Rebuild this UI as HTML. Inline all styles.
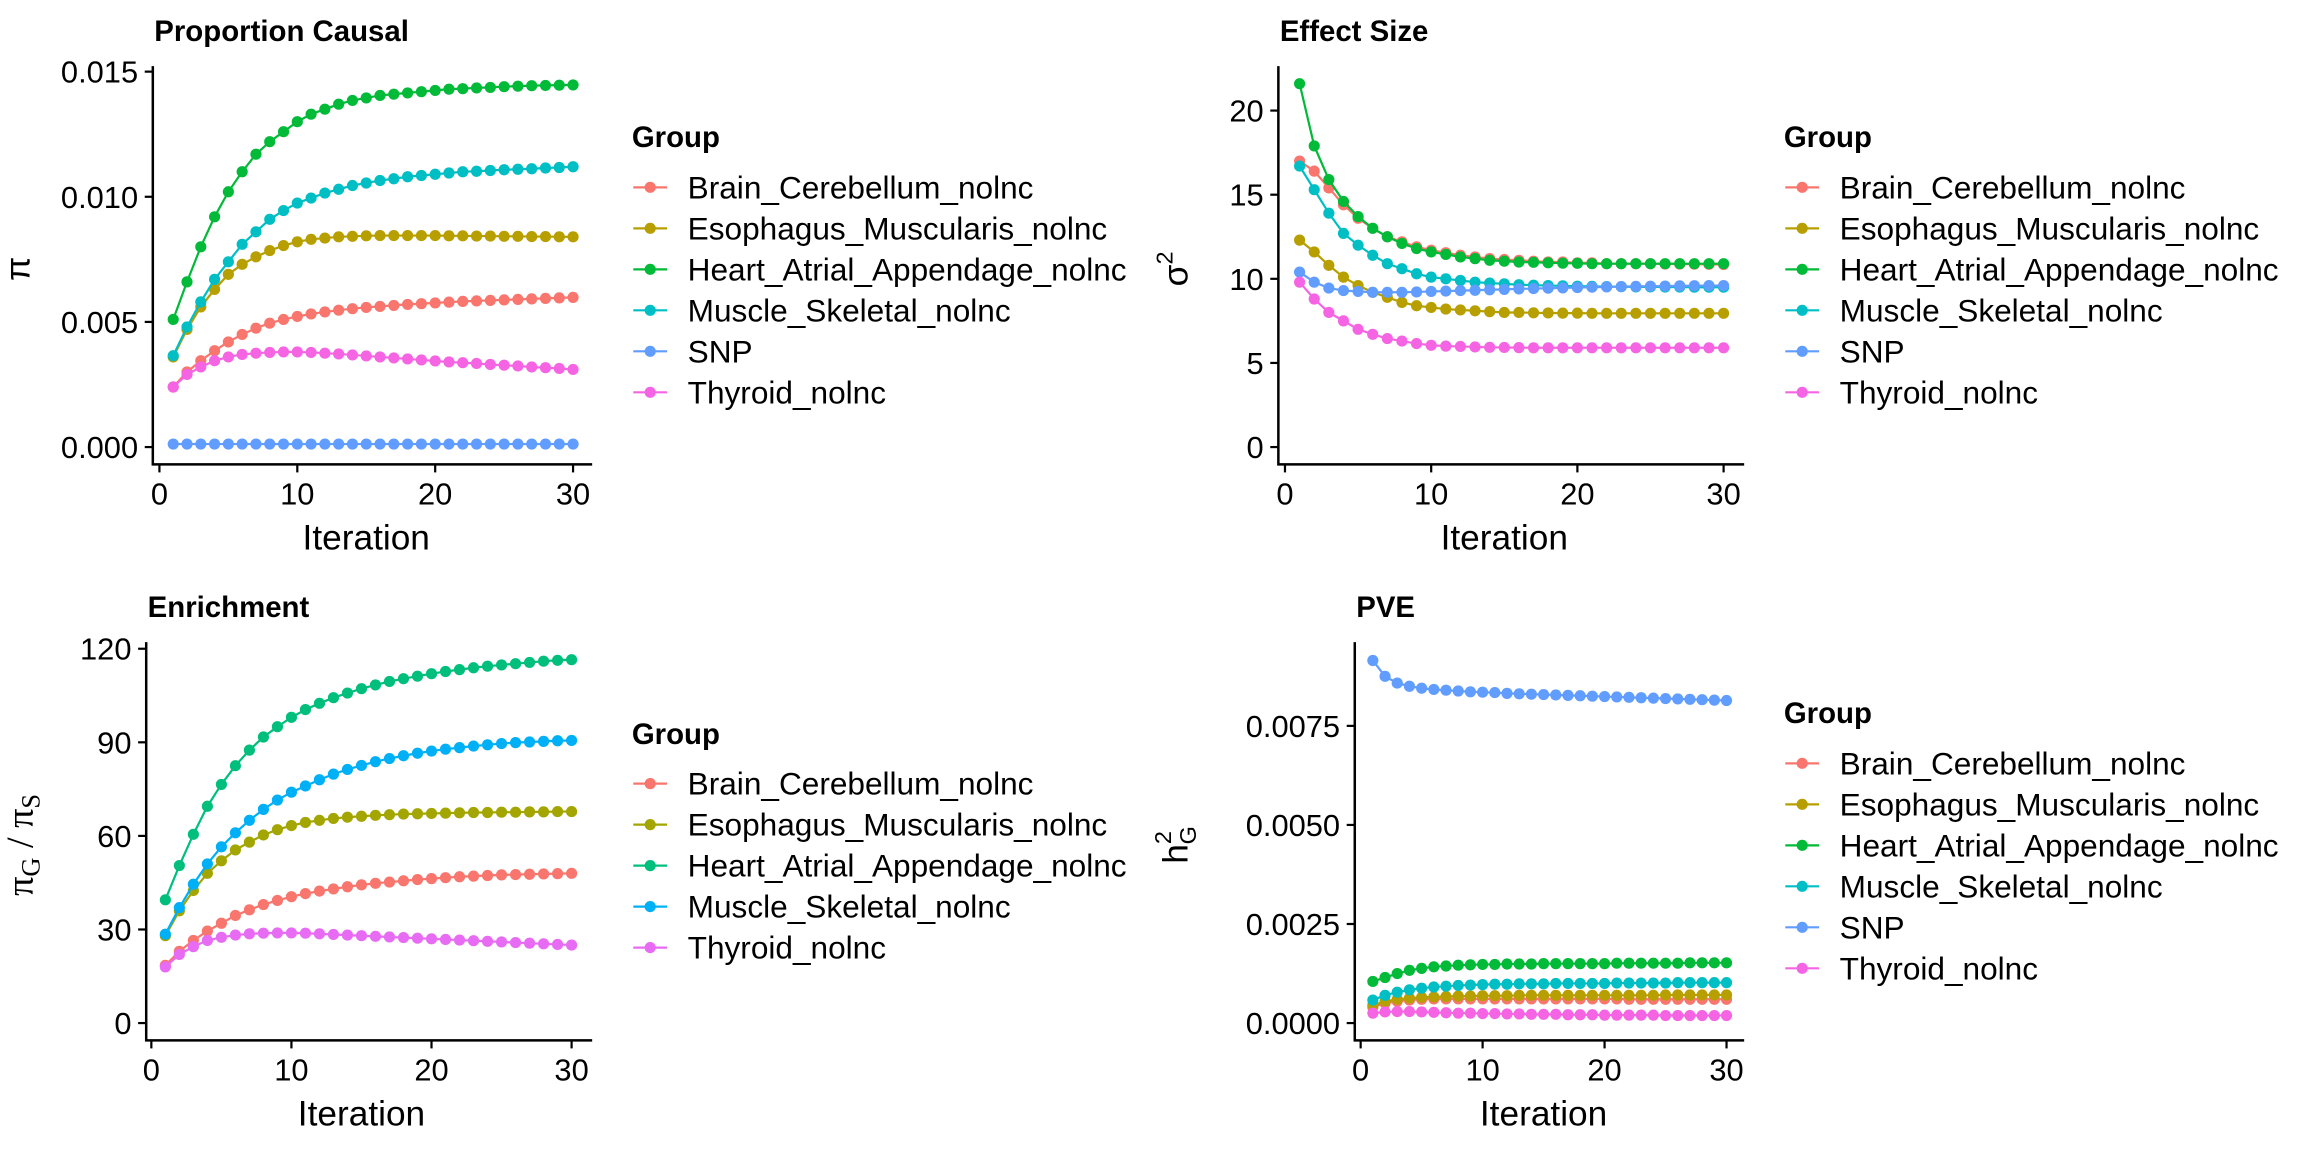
<!DOCTYPE html>
<html><head><meta charset="utf-8"><style>
html,body{margin:0;padding:0;background:#fff;}
svg{display:block;font-family:"Liberation Sans",Arial,sans-serif;}
</style></head><body>
<svg id="fig" width="2304" height="1152" viewBox="0 0 1568 784" xmlns="http://www.w3.org/2000/svg"></svg>
<script>
const iterations = Array.from({length:30},(_,i)=>i+1);
const xTicks = [0,10,20,30];
const groups6 = ["Brain_Cerebellum_nolnc","Esophagus_Muscularis_nolnc","Heart_Atrial_Appendage_nolnc","Muscle_Skeletal_nolnc","SNP","Thyroid_nolnc"];
const groups5 = ["Brain_Cerebellum_nolnc","Esophagus_Muscularis_nolnc","Heart_Atrial_Appendage_nolnc","Muscle_Skeletal_nolnc","Thyroid_nolnc"];
const colors6 = ["#F8766D","#B79F00","#00BA38","#00BFC4","#619CFF","#F564E3"];
const colors5 = ["#F8766D","#A3A500","#00BF7D","#00B0F6","#E76BF3"];

// Proportion Causal (x1e-3)
const pcBrain = [2.4,3.0,3.45,3.85,4.2,4.5,4.75,4.95,5.1,5.22,5.32,5.4,5.47,5.53,5.58,5.62,5.66,5.7,5.73,5.76,5.79,5.82,5.84,5.86,5.88,5.9,5.92,5.94,5.96,5.98];
const pcEso = [3.6,4.7,5.6,6.3,6.9,7.3,7.6,7.85,8.05,8.2,8.3,8.35,8.4,8.42,8.44,8.45,8.45,8.45,8.45,8.45,8.44,8.44,8.43,8.43,8.42,8.42,8.41,8.41,8.4,8.4];
const pcHeart = [5.1,6.6,8.0,9.2,10.2,11.0,11.7,12.2,12.6,13.0,13.3,13.5,13.7,13.85,13.95,14.05,14.1,14.15,14.2,14.25,14.3,14.32,14.35,14.37,14.4,14.42,14.44,14.45,14.46,14.47];
const pcMuscle = [3.65,4.8,5.8,6.7,7.4,8.1,8.6,9.1,9.45,9.75,9.95,10.15,10.3,10.45,10.55,10.65,10.72,10.8,10.85,10.9,10.95,11.0,11.02,11.05,11.08,11.1,11.12,11.15,11.17,11.2];
const pcSNP = [0.12,0.12,0.12,0.12,0.12,0.12,0.12,0.12,0.12,0.12,0.12,0.12,0.12,0.12,0.12,0.12,0.12,0.12,0.12,0.12,0.12,0.12,0.12,0.12,0.12,0.12,0.12,0.12,0.12,0.12];
const pcThy = [2.4,2.9,3.2,3.45,3.6,3.7,3.75,3.78,3.8,3.8,3.78,3.75,3.72,3.68,3.64,3.6,3.56,3.52,3.48,3.44,3.4,3.37,3.34,3.3,3.27,3.24,3.2,3.17,3.14,3.1];
const pcTicks = ["0.000","0.005","0.010","0.015"];

// Effect Size
const esBrain = [17.0,16.4,15.4,14.4,13.6,13.0,12.5,12.2,11.9,11.7,11.55,11.4,11.3,11.2,11.15,11.1,11.05,11.0,11.0,10.95,10.95,10.9,10.9,10.9,10.9,10.88,10.88,10.87,10.86,10.85];
const esEso = [12.3,11.6,10.8,10.1,9.6,9.2,8.9,8.6,8.4,8.3,8.2,8.15,8.1,8.05,8.0,8.0,7.98,7.97,7.96,7.96,7.95,7.95,7.95,7.95,7.95,7.95,7.95,7.95,7.95,7.95];
const esHeart = [21.6,17.9,15.9,14.6,13.7,13.0,12.5,12.1,11.8,11.6,11.45,11.3,11.2,11.1,11.05,11.0,10.98,10.95,10.93,10.92,10.9,10.9,10.9,10.9,10.9,10.9,10.9,10.9,10.9,10.9];
const esMuscle = [16.7,15.3,13.9,12.7,12.0,11.4,10.9,10.6,10.3,10.1,10.0,9.9,9.8,9.75,9.7,9.65,9.62,9.6,9.58,9.56,9.55,9.54,9.53,9.52,9.52,9.51,9.51,9.5,9.5,9.5];
const esSNP = [10.4,9.8,9.45,9.3,9.25,9.2,9.2,9.2,9.22,9.25,9.27,9.3,9.32,9.35,9.37,9.4,9.42,9.44,9.46,9.48,9.5,9.52,9.54,9.55,9.56,9.57,9.58,9.59,9.6,9.6];
const esThy = [9.8,8.8,8.0,7.5,7.0,6.7,6.45,6.3,6.15,6.05,6.0,5.98,5.95,5.93,5.92,5.91,5.9,5.9,5.9,5.9,5.9,5.9,5.9,5.9,5.9,5.9,5.9,5.9,5.9,5.9];
const esTicks = ["0","5","10","15","20"];

// Enrichment
const enBrain = [18.5,23,26.5,29.5,32,34.5,36.3,38,39.3,40.5,41.5,42.3,43,43.7,44.3,44.8,45.2,45.6,46,46.3,46.6,46.9,47.1,47.3,47.5,47.6,47.7,47.8,47.9,48];
const enEso = [28,36,42.5,48,52,55.5,58,60.3,62,63.3,64.3,65,65.6,66,66.3,66.6,66.8,67,67.1,67.2,67.3,67.4,67.5,67.5,67.6,67.6,67.7,67.7,67.8,67.8];
const enHeart = [39.5,50.5,60.5,69.5,76.5,82.5,87.5,91.7,95,98,100.5,102.5,104.3,105.8,107.2,108.4,109.5,110.4,111.2,112,112.7,113.3,113.9,114.4,114.8,115.2,115.6,116,116.3,116.5];
const enMuscle = [28.5,37,44.5,51,56.5,61,65,68.5,71.5,74,76,78,79.8,81.3,82.6,83.8,84.8,85.7,86.5,87.2,87.8,88.3,88.8,89.2,89.6,89.9,90.1,90.3,90.5,90.6];
const enThy = [18,22,24.5,26.5,27.5,28.2,28.6,28.8,28.9,28.9,28.8,28.6,28.4,28.2,28,27.8,27.6,27.4,27.2,27,26.8,26.6,26.4,26.2,26,25.8,25.6,25.4,25.2,25];
const enTicks = ["0","30","60","90","120"];

// PVE (x1e-3)
const pvBrain = [0.4,0.5,0.55,0.58,0.6,0.61,0.61,0.61,0.61,0.61,0.61,0.61,0.61,0.61,0.61,0.61,0.61,0.61,0.61,0.61,0.61,0.6,0.6,0.6,0.6,0.6,0.6,0.6,0.6,0.6];
const pvEso = [0.45,0.55,0.6,0.63,0.65,0.66,0.67,0.68,0.68,0.69,0.69,0.69,0.7,0.7,0.7,0.7,0.7,0.7,0.7,0.7,0.7,0.7,0.7,0.7,0.71,0.71,0.71,0.71,0.71,0.71];
const pvHeart = [1.05,1.15,1.25,1.33,1.38,1.42,1.44,1.46,1.47,1.48,1.48,1.49,1.49,1.49,1.5,1.5,1.5,1.5,1.5,1.5,1.51,1.51,1.51,1.51,1.51,1.51,1.52,1.52,1.52,1.52];
const pvMuscle = [0.58,0.7,0.78,0.84,0.88,0.91,0.93,0.95,0.96,0.97,0.98,0.98,0.99,0.99,0.99,1.0,1.0,1.0,1.0,1.0,1.01,1.01,1.01,1.01,1.01,1.02,1.02,1.02,1.02,1.02];
const pvSNP = [9.15,8.75,8.58,8.5,8.45,8.42,8.4,8.38,8.36,8.35,8.34,8.32,8.31,8.3,8.29,8.28,8.27,8.26,8.25,8.24,8.23,8.22,8.21,8.2,8.19,8.18,8.17,8.16,8.15,8.14];
const pvThy = [0.25,0.28,0.29,0.29,0.28,0.27,0.26,0.25,0.25,0.24,0.24,0.23,0.23,0.22,0.22,0.22,0.21,0.21,0.21,0.2,0.2,0.2,0.2,0.2,0.19,0.19,0.19,0.19,0.19,0.19];
const pvTicks = ["0.0000","0.0025","0.0050","0.0075"];

const NS="http://www.w3.org/2000/svg";
const svg=document.getElementById('fig');
function mk(tag,attrs,parent){const e=document.createElementNS(NS,tag);for(const k in attrs)e.setAttribute(k,attrs[k]);(parent||svg).appendChild(e);return e;}

const panels=[
 {name:"proportion-causal",title:"Proportion Causal",ox:0,oy:0,left:104,x0:108.5,x30:390,tickV:[0,0.005,0.010,0.015],tickL:pcTicks,yPx0:304.25,yPx1:48.75,yV1:0.015,scale:1e-3,
  series:[pcBrain,pcEso,pcHeart,pcMuscle,pcSNP,pcThy],groups:groups6,colors:colors6,legY:93,entY:127.5,ylab:"pi",ylx:20},
 {name:"effect-size",title:"Effect Size",ox:784,oy:0,left:86,x0:90.5,x30:389,tickV:[0,5,10,15,20],tickL:esTicks,yPx0:304.25,yPx1:75.25,yV1:20,scale:1,
  series:[esBrain,esEso,esHeart,esMuscle,esSNP,esThy],groups:groups6,colors:colors6,legY:93,entY:127.5,ylab:"sigma",ylx:24},
 {name:"enrichment",title:"Enrichment",ox:0,oy:392,left:99.5,x0:103,x30:389,tickV:[0,30,60,90,120],tickL:enTicks,yPx0:304.25,yPx1:49.5,yV1:120,scale:1,
  series:[enBrain,enEso,enHeart,enMuscle,enThy],groups:groups5,colors:colors5,legY:107.5,entY:141.3,ylab:"enrich",ylx:22},
 {name:"pve",title:"PVE",ox:784,oy:392,left:138,x0:142,x30:391,tickV:[0,0.0025,0.0050,0.0075],tickL:pvTicks,yPx0:304.25,yPx1:102,yV1:0.0075,scale:1e-3,
  series:[pvBrain,pvEso,pvHeart,pvMuscle,pvSNP,pvThy],groups:groups6,colors:colors6,legY:93,entY:127.5,ylab:"h2",ylx:24}
];

panels.forEach(p=>{
 const g=mk('g',{transform:`translate(${p.ox},${p.oy})`});
 
 
 const xs=v=>p.x0+(v)*(p.x30-p.x0)/30;
 const ys=v=>p.yPx0+(v)*(p.yPx1-p.yPx0)/p.yV1;
 const bottom=316, top=45, right=403;
 const t=mk('text',{x:p.left+1,y:28,'font-size':20,'font-weight':'bold',fill:'#000'},g);t.textContent=p.title;
 
 p.series.forEach((vals,si)=>{
  const sg=mk('g',{},g);
  
  
  const pts=vals.map((v,i)=>xs(iterations[i]).toFixed(2)+','+ys(v*p.scale).toFixed(2)).join(' ');
  mk('polyline',{points:pts,fill:'none',stroke:p.colors[si],'stroke-width':1.5},sg);
  vals.forEach((v,i)=>{
   const c=mk('circle',{cx:xs(iterations[i]),cy:ys(v*p.scale),r:3.8,fill:p.colors[si]},sg);
   
   
  });
 });
 const ax=mk('path',{d:`M${p.left},${top}V${bottom}H${right}`,fill:'none',stroke:'#000','stroke-width':1.7},g);
 
 xTicks.forEach(v=>{
  mk('line',{x1:xs(v),x2:xs(v),y1:bottom,y2:bottom+5.5,stroke:'#000','stroke-width':1.5},g);
  const tl=mk('text',{x:xs(v),y:343.5,'font-size':21,'text-anchor':'middle',fill:'#000'},g);tl.textContent=v;
  
 });
 p.tickV.forEach((v,i)=>{
  mk('line',{x1:p.left-5.5,x2:p.left,y1:ys(v),y2:ys(v),stroke:'#000','stroke-width':1.5},g);
  const tl=mk('text',{x:p.left-10,y:ys(v)+7.5,'font-size':21,'text-anchor':'end',fill:'#000'},g);tl.textContent=p.tickL[i];
  
 });
 const xt=mk('text',{x:(p.x0+p.x30)/2,y:374,'font-size':24,'text-anchor':'middle',fill:'#000'},g);xt.textContent="Iteration";
 
 const yl=mk('text',{transform:`translate(${p.ylx},183) rotate(-90)`,'font-size':24,'text-anchor':'middle',fill:'#000'},g);
 
 if(p.ylab==="pi"){yl.textContent="π";}
 else if(p.ylab==="sigma"){yl.innerHTML='σ<tspan font-size="16" dy="-10">2</tspan>';}
 else if(p.ylab==="enrich"){yl.setAttribute('font-family','"Liberation Serif",serif');yl.setAttribute('font-size','26');yl.innerHTML='π<tspan font-size="18" dy="5">G</tspan><tspan dy="-5"> / π</tspan><tspan font-size="18" dy="5">S</tspan>';}
 else {yl.innerHTML='h<tspan font-size="16" dy="-11">2</tspan><tspan font-size="16" dx="-9" dy="17">G</tspan>';}
 const lg=mk('g',{},g);
 
 const gt=mk('text',{x:430,y:p.legY+7,'font-size':20,'font-weight':'bold',fill:'#000'},lg);gt.textContent="Group";
 
 p.groups.forEach((name,i)=>{
  const ey=p.entY+i*27.9;
  const e=mk('g',{},lg);
  
  mk('line',{x1:431,x2:454,y1:ey,y2:ey,stroke:p.colors[i],'stroke-width':1.5},e);
  mk('circle',{cx:442.5,cy:ey,r:3.8,fill:p.colors[i]},e);
  const lt=mk('text',{x:468,y:ey+7.5,'font-size':21.5,fill:'#000'},e);lt.textContent=name;
 });
});
</script>
</body></html>
